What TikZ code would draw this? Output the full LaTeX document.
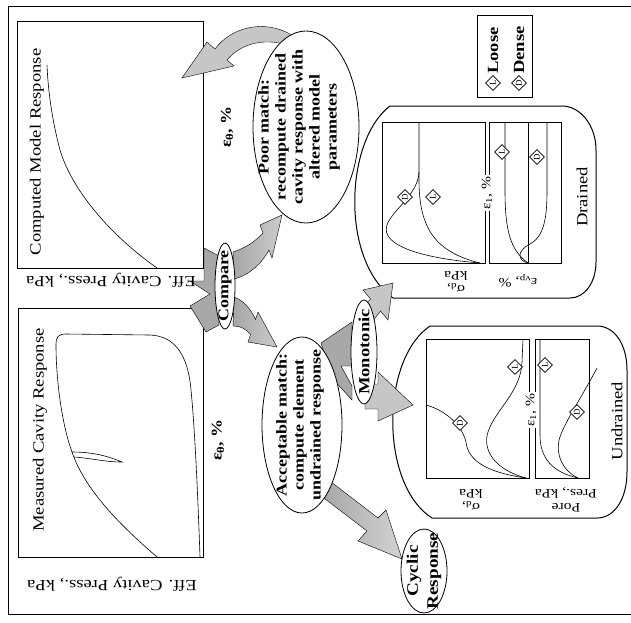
\documentclass[tikz,border=0pt]{standalone}
\usepackage{fontspec}
\setmainfont{Liberation Serif}
\newfontfamily\wide[FakeStretch=1.2]{Liberation Serif}
\usetikzlibrary{shapes.geometric}
\begin{document}
\begin{tikzpicture}[x=1pt,y=-1pt,
  box/.style={draw, line width=0.9pt},
  pbox/.style={draw, line width=0.8pt},
  crv/.style={line width=0.6pt},
  light/.style={fill=gray!45, draw=black, line width=0.4pt},
  dark/.style={fill=gray!68, draw=black, line width=0.4pt},
  oval/.style={draw, ellipse, fill=white, line width=0.8pt, inner sep=0pt},
  ovaltext/.style={rotate=90, align=center, inner sep=0pt, font=\wide\bfseries\fontsize{15}{17}\selectfont},
  titletext/.style={rotate=90, font=\wide\fontsize{15.5}{16}\selectfont},
  efftext/.style={rotate=180, font=\wide\fontsize{15.5}{16}\selectfont},
  lab/.style={font=\wide\fontsize{13}{14}\selectfont, inner sep=1pt, align=center},
  mk/.style={draw, diamond, fill=white, inner sep=0pt, minimum size=15pt, rotate=90, line width=0.6pt, font=\fontsize{9}{9}\selectfont}
]
\useasboundingbox (0,0) rectangle (631,622);
% frame
\draw[line width=0.6pt] (631,6) -- (8,6) -- (8,614) -- (631,614);

% cavity response boxes
\draw[box] (17,21) rectangle (203,268);
\draw[box] (18,308) rectangle (203,557);
\node[titletext] (ctitle) at (37,152) {Computed Model Response};
\node[titletext] (mtitle) at (40,430) {Measured Cavity Response};
\node[lab, rotate=90, font=\wide\bfseries\fontsize{15}{15}\selectfont] (cx) at (227,127) {ε\textsubscript{θ}, \%};
\node[lab, rotate=90, font=\wide\bfseries\fontsize{15}{15}\selectfont] (mx) at (218,440) {ε\textsubscript{θ}, \%};
\draw[crv] (157,268) .. controls (110,235) and (72,190) .. (60,150) .. controls (52,120) and (48,90) .. (47,65);
\draw[crv] (157,557) .. controls (120,525) and (85,490) .. (72,452) .. controls (62,425) and (56,380) .. (56,345)
  .. controls (56,337) and (58,334) .. (66,334) -- (150,335) .. controls (175,336) and (188,355) .. (191,390)
  .. controls (195,430) and (198,500) .. (200,557);
\draw[crv] (72,452) .. controls (95,452) and (110,457) .. (122,462) .. controls (105,462) and (90,458) .. (74,457);

% drained / undrained outlines
\draw[box, line width=1pt] (390,106) -- (562,106) .. controls (580,106) and (596,125) .. (596,150) -- (596,262)
  .. controls (596,282) and (585,298) .. (570,298) -- (393,298) .. controls (340,260) and (345,140) .. (390,106) -- cycle;
\draw[box, line width=1pt] (430,326) -- (597,326) .. controls (615,326) and (627,345) .. (627,370) -- (627,472)
  .. controls (627,498) and (615,518) .. (597,518) -- (432,518) .. controls (380,485) and (380,360) .. (430,326) -- cycle;

% drained plots
\draw[pbox] (382,122) rectangle (485,263);
\draw[pbox] (489,122) rectangle (561,263);
\draw[crv] (528,122) -- (528,263);
\draw[crv] (480,263) .. controls (435,252) and (419,228) .. (419,180) -- (419,122);
\draw[crv] (480,263) .. controls (420,258) and (380,245) .. (387,225) .. controls (392,210) and (418,195) .. (419,172);
\draw[crv] (528,263) .. controls (510,250) and (505,230) .. (505,190) -- (505,122);
\draw[crv] (528,263) .. controls (516,260) and (518,250) .. (530,244) .. controls (545,236) and (547,215) .. (547,190) -- (547,122);
\node[mk] (dsD) at (405,197) {D};
\node[mk] (dsL) at (433,197) {L};
\node[mk] (dvL) at (502,152) {L};
\node[mk] (dvD) at (537,157) {D};
\node[lab, rotate=90, fill=white] (de1) at (487,193) {ε\textsubscript{1}, \%};
\node[lab, rotate=180] (dsy) at (456,282) {σ\textsubscript{d},\\kPa};
\node[lab, rotate=180] (dvy) at (518,281) {ε\textsubscript{vp}, \%};
\node[rotate=90, font=\wide\fontsize{15.5}{16}\selectfont] (drained) at (582,197) {Drained};

% undrained plots
\draw[pbox] (426,339) rectangle (529,478);
\draw[pbox] (535,339) rectangle (589,478);
\draw[crv] (526,478) .. controls (495,470) and (482,450) .. (488,432) .. controls (495,410) and (521,392) .. (522,362) -- (523,339);
\draw[crv] (526,478) .. controls (485,472) and (468,460) .. (466,442) .. controls (462,425) and (445,410) .. (426,405);
\draw[crv] (578,478) .. controls (552,472) and (540,458) .. (540,435) -- (540,339);
\draw[crv] (578,478) .. controls (562,470) and (556,455) .. (559,440) .. controls (563,425) and (580,400) .. (597,368);
\node[mk] (usD) at (460,423) {D};
\node[mk] (usL) at (515,367) {L};
\node[mk] (upL) at (545,365) {L};
\node[mk] (upD) at (577,412) {D};
\node[lab, rotate=90, fill=white] (ue1) at (531,410) {ε\textsubscript{1}, \%};
\node[lab, rotate=180] (usy) at (471,500) {σ\textsubscript{d},\\kPa};
\node[lab, rotate=180] (upy) at (566,500) {Pore\\Pres., kPa};
\node[rotate=90, font=\wide\fontsize{15.5}{16}\selectfont] (undrained) at (617,421) {Undrained};

% legend
\draw[pbox] (477,15) rectangle (532,97);
\node[mk] (lgL) at (493,83) {L};
\node[mk] (lgD) at (519,83) {D};
\node[rotate=90, anchor=west, inner sep=0pt, font=\wide\bfseries\fontsize{15.5}{16}\selectfont] (loose) at (493,74) {Loose};
\node[rotate=90, anchor=west, inner sep=0pt, font=\wide\bfseries\fontsize{15.5}{16}\selectfont] (dense) at (519,74) {Dense};

% fat arrows
\path[dark] (204,248) -- (219,256) -- (219,325) -- (206,332) -- (190,306) -- (210,294) -- (190,281) -- (204,281) -- cycle;
\path[draw=black, line width=0.4pt, left color=gray!70, right color=gray!40]
  (233,252) .. controls (243,249) and (255,242) .. (263,233) -- (260,225) -- (282,215) -- (272,258) -- (269,250)
  .. controls (262,263) and (250,275) .. (234,279) -- cycle;
\path[draw=black, line width=0.4pt, left color=gray!70, right color=gray!40]
  (234,297) .. controls (243,300) and (251,309) .. (255.5,319.5) -- (258,312) -- (277,347) -- (248,342) -- (250.5,334.5)
  .. controls (245,328) and (240,326) .. (233,326) -- cycle;
\path[light] (290,34) .. controls (265,20) and (232,26) .. (215,49) -- (207,42) -- (182,78) -- (234,66) -- (227,60)
  .. controls (242,42) and (268,37) .. (293,47) -- cycle;
\path[dark] (321,343) -- (352,322) -- (352,366) -- (341,366) -- (352,386) -- (352,400) -- (332,378) -- cycle;
\path[draw=black, line width=0.4pt, left color=gray!72, right color=gray!35]
  (326,478) -- (378,518) -- (386,510) -- (402,559) -- (358,541) -- (367,531) -- (316,492) -- cycle;
\path[light] (358,312) -- (370.5,299) -- (363,290) -- (393,283) -- (388,320) -- (380.5,311) -- (372,322) -- cycle;
\path[light] (365,384) -- (378,384) -- (378,372) -- (413,405) -- (378,421) -- (378,409) -- (365,409) -- cycle;

% effective cavity pressure labels
\node[efftext] (cy) at (111,280) {Eff. Cavity Press., kPa};
\node[efftext] (my) at (112,584) {Eff. Cavity Press., kPa};

% ellipses
\node[oval, minimum width=20pt, minimum height=86pt] (compare) at (225,286) {};
\node[ovaltext] at (225,286) {Compare};
\node[oval, minimum width=106pt, minimum height=192pt] (poor) at (306,127) {};
\node[ovaltext] at (299,127) {Poor match:\\recompute drained\\cavity response with\\altered model\\parameters};
\node[oval, minimum width=80pt, minimum height=176pt] (accept) at (302,425) {};
\node[ovaltext] at (300,425) {Acceptable match:\\compute element\\undrained response};
\node[oval, minimum width=26pt, minimum height=104pt] (mono) at (364,352) {};
\node[ovaltext, font=\wide\bfseries\fontsize{15.5}{17}\selectfont] at (364,352) {Monotonic};
\node[oval, minimum width=46pt, minimum height=84pt] (cyclic) at (424,571) {};
\node[ovaltext, font=\wide\bfseries\fontsize{16}{20}\selectfont] at (424,571) {Cyclic\\Response};
\end{tikzpicture}
\end{document}
